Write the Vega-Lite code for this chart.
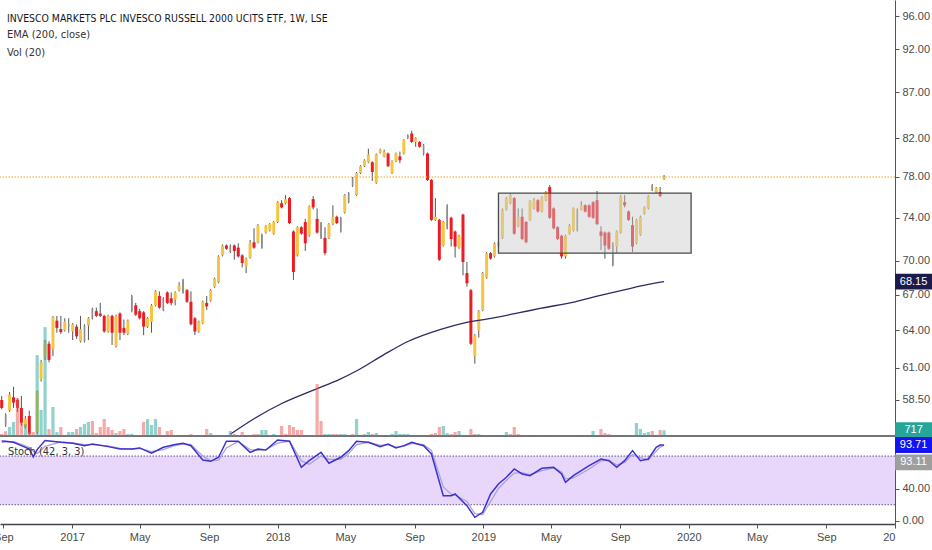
{
"$schema":"https://vega.github.io/schema/vega-lite/v6.json",
"autosize":{"type":"none"},
"padding":{"left":0,"top":0,"right":37,"bottom":26},
"background":"white",
"width":895,"height":524,
"config":{"view":{"stroke":null},"font":"Liberation Sans","axis":{"labelFont":"Liberation Sans","labelFontSize":11,"labelColor":"#4a4a4a","domainColor":"#50535e","tickColor":"#50535e","grid":false,"title":null}},
"title":{"text":"INVESCO MARKETS PLC INVESCO RUSSELL 2000 UCITS ETF, 1W, LSE","subtitle":["EMA (200, close)","Vol (20)"],"anchor":"start","orient":"top","frame":"group","offset":-58,"dx":7,"font":"Liberation Sans Narrow, DejaVu Sans Condensed, Liberation Sans","fontSize":10.4,"fontWeight":"normal","color":"#131722","subtitleFont":"Liberation Sans Narrow, DejaVu Sans Condensed, Liberation Sans","subtitleFontSize":11,"subtitleColor":"#333333","subtitlePadding":5,"subtitleLineHeight":18},
"datasets":{
"candles":[
{"d":"2016-08-29","o":58.5,"h":58.8,"l":57.8,"c":57.9,"col":"R","v":252,"vc":"dn"},
{"d":"2016-09-05","o":56.6,"h":57.5,"l":56.5,"c":57.4,"col":"G","v":592,"vc":"dn"},
{"d":"2016-09-12","o":57.7,"h":59.1,"l":57.6,"c":58.9,"col":"Y","v":1134,"vc":"up"},
{"d":"2016-09-19","o":58.7,"h":59.5,"l":57.9,"c":58.3,"col":"R","v":1764,"vc":"up"},
{"d":"2016-09-26","o":58.5,"h":58.6,"l":57.6,"c":57.9,"col":"R","v":4788,"vc":"dn"},
{"d":"2016-10-03","o":57.9,"h":58.8,"l":56.6,"c":56.8,"col":"R","v":1764,"vc":"dn"},
{"d":"2016-10-10","o":56.5,"h":57.3,"l":56.4,"c":57.1,"col":"Y","v":1512,"vc":"up"},
{"d":"2016-10-17","o":57.3,"h":57.7,"l":55.9,"c":56.0,"col":"R","v":504,"vc":"dn"},
{"d":"2016-10-24","v":504,"vc":"dn"},
{"d":"2016-10-31","o":56.1,"h":59.2,"l":56.0,"c":59.1,"col":"Y","v":10206,"vc":"up"},
{"d":"2016-11-07","o":60.1,"h":61.6,"l":59.9,"c":61.4,"col":"Y","v":3276,"vc":"up"},
{"d":"2016-11-14","o":61.8,"h":63.2,"l":61.6,"c":63.0,"col":"Y","v":13734,"vc":"up"},
{"d":"2016-11-21","o":62.9,"h":63.1,"l":61.4,"c":61.6,"col":"R","v":882,"vc":"dn"},
{"d":"2016-11-28","o":62.5,"h":65.2,"l":61.9,"c":65.1,"col":"Y","v":3654,"vc":"up"},
{"d":"2016-12-05","o":64.8,"h":65.2,"l":63.8,"c":64.2,"col":"R","v":504,"vc":"up"},
{"d":"2016-12-12","o":64.1,"h":65.2,"l":63.7,"c":63.85,"col":"R","v":1134,"vc":"dn"},
{"d":"2016-12-19","o":64.0,"h":65.0,"l":63.9,"c":64.7,"col":"Y","v":126,"vc":"up"},
{"d":"2016-12-26","o":64.3,"h":65.0,"l":63.8,"c":64.5,"col":"G","v":504,"vc":"up"},
{"d":"2017-01-02","o":63.9,"h":64.6,"l":63.2,"c":64.5,"col":"Y","v":504,"vc":"up"},
{"d":"2017-01-09","o":64.3,"h":64.5,"l":63.3,"c":63.5,"col":"R","v":882,"vc":"dn"},
{"d":"2017-01-16","o":63.1,"h":65.2,"l":63.0,"c":64.1,"col":"Y","v":1134,"vc":"up"},
{"d":"2017-01-23","o":63.1,"h":64.5,"l":63.0,"c":64.4,"col":"G","v":1512,"vc":"up"},
{"d":"2017-01-30","o":64.4,"h":65.1,"l":63.2,"c":65.0,"col":"Y","v":1764,"vc":"up"},
{"d":"2017-02-06","o":65.0,"h":65.9,"l":64.9,"c":65.8,"col":"G","v":1890,"vc":"dn"},
{"d":"2017-02-13","o":65.6,"h":65.9,"l":65.1,"c":65.2,"col":"R","v":378,"vc":"dn"},
{"d":"2017-02-20","o":65.4,"h":66.3,"l":65.1,"c":65.2,"col":"R","v":1134,"vc":"dn"},
{"d":"2017-02-27","o":65.2,"h":65.3,"l":63.8,"c":63.9,"col":"R","v":2142,"vc":"dn"},
{"d":"2017-03-06","o":63.9,"h":65.3,"l":63.8,"c":65.2,"col":"Y","v":1134,"vc":"dn"},
{"d":"2017-03-13","o":65.2,"h":65.3,"l":62.8,"c":63.8,"col":"R","v":756,"vc":"dn"},
{"d":"2017-03-20","o":62.7,"h":65.3,"l":62.6,"c":65.2,"col":"Y","v":378,"vc":"up"},
{"d":"2017-03-27","o":65.4,"h":65.5,"l":63.2,"c":63.8,"col":"R","v":630,"vc":"dn"},
{"d":"2017-04-03","o":64.2,"h":64.9,"l":63.6,"c":63.8,"col":"R","v":882,"vc":"dn"},
{"d":"2017-04-10","o":63.7,"h":64.9,"l":63.6,"c":64.8,"col":"Y","v":252,"vc":"up"},
{"d":"2017-04-17","o":65.6,"h":67.0,"l":65.5,"c":66.9,"col":"G","v":252,"vc":"up"},
{"d":"2017-04-24","o":66.1,"h":66.3,"l":65.2,"c":65.3,"col":"R","v":126,"vc":"dn"},
{"d":"2017-05-01","o":65.6,"h":65.8,"l":64.9,"c":65.0,"col":"R","v":126,"vc":"dn"},
{"d":"2017-05-08","o":65.5,"h":65.6,"l":63.6,"c":64.3,"col":"R","v":1764,"vc":"dn"},
{"d":"2017-05-15","o":64.3,"h":65.1,"l":64.2,"c":65.0,"col":"Y","v":2142,"vc":"up"},
{"d":"2017-05-22","o":64.7,"h":66.2,"l":63.8,"c":66.1,"col":"Y","v":1386,"vc":"up"},
{"d":"2017-05-29","o":66.1,"h":67.4,"l":66.0,"c":67.3,"col":"Y","v":2142,"vc":"up"},
{"d":"2017-06-05","o":66.9,"h":67.3,"l":65.8,"c":65.9,"col":"R","v":1134,"vc":"dn"},
{"d":"2017-06-12","o":65.7,"h":66.8,"l":65.6,"c":66.7,"col":"G","v":126,"vc":"up"},
{"d":"2017-06-19","o":67.2,"h":67.3,"l":66.2,"c":66.3,"col":"R","v":630,"vc":"dn"},
{"d":"2017-06-26","o":66.7,"h":67.2,"l":66.1,"c":66.3,"col":"R","v":756,"vc":"dn"},
{"d":"2017-07-03","o":66.6,"h":67.3,"l":66.1,"c":67.2,"col":"Y","v":126,"vc":"up"},
{"d":"2017-07-10","o":67.4,"h":68.1,"l":67.3,"c":67.8,"col":"Y","v":126,"vc":"up"},
{"d":"2017-07-17","o":67.2,"h":68.4,"l":67.1,"c":68.3,"col":"G","v":126,"vc":"up"},
{"d":"2017-07-24","o":67.4,"h":67.5,"l":66.3,"c":66.4,"col":"R","v":126,"vc":"dn"},
{"d":"2017-07-31","o":66.4,"h":67.3,"l":64.4,"c":64.5,"col":"R","v":252,"vc":"dn"},
{"d":"2017-08-07","o":65.0,"h":65.1,"l":63.6,"c":63.9,"col":"R","v":126,"vc":"dn"},
{"d":"2017-08-14","o":63.9,"h":64.8,"l":63.8,"c":64.7,"col":"Y","v":126,"vc":"up"},
{"d":"2017-08-21","o":64.6,"h":66.5,"l":64.5,"c":66.4,"col":"Y","v":126,"vc":"up"},
{"d":"2017-08-28","o":66.3,"h":66.9,"l":65.7,"c":66.0,"col":"R","v":882,"vc":"dn"},
{"d":"2017-09-04","o":66.5,"h":67.5,"l":66.4,"c":67.4,"col":"Y","v":378,"vc":"up"},
{"d":"2017-09-11","o":67.7,"h":68.5,"l":67.6,"c":68.4,"col":"Y","v":126,"vc":"up"},
{"d":"2017-09-18","o":68.1,"h":70.5,"l":68.0,"c":70.4,"col":"Y","v":126,"vc":"up"},
{"d":"2017-09-25","o":70.5,"h":71.5,"l":70.4,"c":71.4,"col":"Y","v":126,"vc":"up"},
{"d":"2017-10-02","o":71.4,"h":71.5,"l":71.0,"c":71.1,"col":"R","v":63,"vc":"dn"},
{"d":"2017-10-09","o":70.8,"h":71.5,"l":70.7,"c":71.4,"col":"G","v":630,"vc":"up"},
{"d":"2017-10-16","o":71.4,"h":71.5,"l":70.1,"c":70.9,"col":"R","v":252,"vc":"dn"},
{"d":"2017-10-23","o":71.2,"h":71.6,"l":70.3,"c":70.4,"col":"R","v":126,"vc":"dn"},
{"d":"2017-10-30","o":70.5,"h":70.6,"l":69.4,"c":69.8,"col":"R","v":504,"vc":"dn"},
{"d":"2017-11-06","o":69.5,"h":70.3,"l":68.9,"c":70.2,"col":"Y","v":126,"vc":"up"},
{"d":"2017-11-13","o":70.3,"h":71.9,"l":70.2,"c":71.6,"col":"Y","v":126,"vc":"up"},
{"d":"2017-11-20","o":71.7,"h":73.0,"l":71.1,"c":71.2,"col":"R","v":252,"vc":"dn"},
{"d":"2017-11-27","o":71.7,"h":73.4,"l":71.6,"c":73.3,"col":"Y","v":252,"vc":"dn"},
{"d":"2017-12-04","o":71.2,"h":72.5,"l":71.1,"c":72.4,"col":"G","v":756,"vc":"up"},
{"d":"2017-12-11","o":72.6,"h":73.3,"l":72.5,"c":73.2,"col":"Y","v":756,"vc":"up"},
{"d":"2017-12-18","o":72.8,"h":73.5,"l":72.7,"c":73.4,"col":"Y","v":126,"vc":"up"},
{"d":"2017-12-25","o":72.5,"h":73.7,"l":72.4,"c":73.6,"col":"Y","v":252,"vc":"up"},
{"d":"2018-01-01","o":73.6,"h":75.6,"l":73.5,"c":75.5,"col":"Y","v":126,"vc":"up"},
{"d":"2018-01-08","o":75.4,"h":75.7,"l":74.9,"c":75.0,"col":"R","v":1260,"vc":"dn"},
{"d":"2018-01-15","o":75.4,"h":76.2,"l":75.3,"c":75.8,"col":"Y","v":252,"vc":"dn"},
{"d":"2018-01-22","o":75.9,"h":76.0,"l":73.4,"c":73.5,"col":"R","v":1386,"vc":"dn"},
{"d":"2018-01-29","o":72.7,"h":72.8,"l":68.3,"c":69.0,"col":"R","v":1134,"vc":"dn"},
{"d":"2018-02-05","o":70.5,"h":73.2,"l":70.4,"c":73.1,"col":"Y","v":756,"vc":"dn"},
{"d":"2018-02-12","o":73.1,"h":73.2,"l":72.4,"c":72.5,"col":"R","v":756,"vc":"dn"},
{"d":"2018-02-19","o":73.6,"h":73.9,"l":70.9,"c":71.6,"col":"R","v":126,"vc":"dn"},
{"d":"2018-02-26","o":72.3,"h":75.2,"l":72.2,"c":75.1,"col":"Y","v":126,"vc":"up"},
{"d":"2018-03-05","o":75.8,"h":76.1,"l":74.8,"c":75.0,"col":"R","v":126,"vc":"dn"},
{"d":"2018-03-12","o":73.9,"h":74.9,"l":72.5,"c":72.6,"col":"R","v":6552,"vc":"dn"},
{"d":"2018-03-19","o":72.1,"h":73.6,"l":72.0,"c":73.5,"col":"G","v":1890,"vc":"dn"},
{"d":"2018-03-26","o":72.1,"h":73.1,"l":70.5,"c":70.7,"col":"R","v":252,"vc":"up"},
{"d":"2018-04-02","o":72.1,"h":73.5,"l":72.0,"c":73.4,"col":"Y","v":252,"vc":"up"},
{"d":"2018-04-09","o":73.4,"h":75.2,"l":73.3,"c":74.1,"col":"Y","v":252,"vc":"dn"},
{"d":"2018-04-16","o":74.1,"h":74.2,"l":73.4,"c":73.5,"col":"R","v":252,"vc":"dn"},
{"d":"2018-04-23","o":72.7,"h":74.1,"l":72.6,"c":74.0,"col":"G","v":252,"vc":"up"},
{"d":"2018-04-30","o":74.5,"h":76.3,"l":74.4,"c":76.2,"col":"Y","v":252,"vc":"up"},
{"d":"2018-05-07","o":75.5,"h":76.5,"l":75.4,"c":76.4,"col":"G","v":63,"vc":"up"},
{"d":"2018-05-14","o":77.1,"h":78.0,"l":77.0,"c":77.9,"col":"G","v":252,"vc":"dn"},
{"d":"2018-05-21","o":76.2,"h":78.5,"l":76.1,"c":78.4,"col":"Y","v":2142,"vc":"up"},
{"d":"2018-05-28","o":78.4,"h":79.2,"l":78.3,"c":79.1,"col":"Y","v":63,"vc":"up"},
{"d":"2018-06-04","o":79.1,"h":79.8,"l":79.0,"c":79.7,"col":"Y","v":252,"vc":"up"},
{"d":"2018-06-11","o":79.5,"h":80.9,"l":79.4,"c":80.3,"col":"Y","v":504,"vc":"up"},
{"d":"2018-06-18","o":79.5,"h":79.6,"l":77.6,"c":78.5,"col":"R","v":252,"vc":"dn"},
{"d":"2018-06-25","o":77.4,"h":80.4,"l":77.3,"c":80.3,"col":"Y","v":378,"vc":"up"},
{"d":"2018-07-02","o":80.5,"h":80.9,"l":80.4,"c":80.8,"col":"Y","v":63,"vc":"up"},
{"d":"2018-07-09","o":80.1,"h":80.8,"l":80.0,"c":80.6,"col":"Y","v":63,"vc":"up"},
{"d":"2018-07-16","o":80.4,"h":80.5,"l":79.0,"c":79.1,"col":"R","v":63,"vc":"dn"},
{"d":"2018-07-23","o":78.4,"h":79.7,"l":78.3,"c":79.6,"col":"Y","v":252,"vc":"up"},
{"d":"2018-07-30","o":79.6,"h":80.5,"l":79.5,"c":80.4,"col":"Y","v":630,"vc":"up"},
{"d":"2018-08-06","o":80.1,"h":80.6,"l":79.4,"c":79.7,"col":"R","v":252,"vc":"up"},
{"d":"2018-08-13","o":80.4,"h":81.9,"l":80.3,"c":81.8,"col":"Y","v":252,"vc":"up"},
{"d":"2018-08-20","o":82.0,"h":82.4,"l":81.9,"c":82.3,"col":"G","v":252,"vc":"up"},
{"d":"2018-08-27","o":82.5,"h":82.8,"l":81.5,"c":81.6,"col":"R","v":63,"vc":"dn"},
{"d":"2018-09-03","o":81.6,"h":82.1,"l":81.1,"c":82.0,"col":"Y","v":63,"vc":"up"},
{"d":"2018-09-10","o":81.6,"h":81.7,"l":81.0,"c":81.1,"col":"R","v":63,"vc":"dn"},
{"d":"2018-09-17","o":80.3,"h":81.4,"l":80.2,"c":81.3,"col":"G","v":63,"vc":"up"},
{"d":"2018-09-24","o":80.4,"h":80.5,"l":77.6,"c":77.7,"col":"R","v":63,"vc":"dn"},
{"d":"2018-10-01","o":77.7,"h":77.8,"l":73.7,"c":73.8,"col":"R","v":252,"vc":"dn"},
{"d":"2018-10-08","o":73.8,"h":75.9,"l":73.7,"c":74.1,"col":"Y","v":378,"vc":"dn"},
{"d":"2018-10-15","o":73.8,"h":73.9,"l":70.0,"c":70.1,"col":"R","v":1134,"vc":"dn"},
{"d":"2018-10-22","o":71.4,"h":73.7,"l":71.3,"c":73.6,"col":"Y","v":1260,"vc":"up"},
{"d":"2018-10-29","o":73.0,"h":75.3,"l":72.9,"c":75.2,"col":"G","v":378,"vc":"up"},
{"d":"2018-11-05","o":74.0,"h":74.1,"l":71.3,"c":72.0,"col":"R","v":252,"vc":"dn"},
{"d":"2018-11-12","o":72.7,"h":72.8,"l":70.3,"c":71.3,"col":"R","v":504,"vc":"dn"},
{"d":"2018-11-19","o":71.2,"h":72.4,"l":71.1,"c":72.3,"col":"Y","v":630,"vc":"up"},
{"d":"2018-11-26","o":74.3,"h":74.4,"l":68.7,"c":69.9,"col":"R","v":63,"vc":"dn"},
{"d":"2018-12-03","o":68.9,"h":69.9,"l":67.7,"c":68.0,"col":"R","v":63,"vc":"dn"},
{"d":"2018-12-10","o":67.4,"h":67.5,"l":62.8,"c":62.9,"col":"R","v":882,"vc":"dn"},
{"d":"2018-12-17","o":61.9,"h":63.7,"l":61.3,"c":63.6,"col":"Y","v":252,"vc":"dn"},
{"d":"2018-12-24","o":64.0,"h":65.7,"l":63.4,"c":65.6,"col":"Y","v":252,"vc":"up"},
{"d":"2018-12-31","o":65.7,"h":69.0,"l":65.6,"c":68.9,"col":"Y","v":63,"vc":"up"},
{"d":"2019-01-07","o":68.5,"h":70.8,"l":68.4,"c":70.7,"col":"Y","v":126,"vc":"up"},
{"d":"2019-01-14","o":70.7,"h":70.8,"l":70.1,"c":70.2,"col":"R","v":63,"vc":"dn"},
{"d":"2019-01-21","o":70.4,"h":71.7,"l":70.3,"c":71.6,"col":"Y","v":63,"vc":"up"},
{"d":"2019-01-28","o":71.3,"h":71.8,"l":71.2,"c":71.7,"col":"G","v":63,"vc":"up"},
{"d":"2019-02-04","o":72.1,"h":74.9,"l":72.0,"c":74.8,"col":"Y","v":63,"vc":"up"},
{"d":"2019-02-11","o":74.8,"h":76.0,"l":74.7,"c":75.9,"col":"Y","v":504,"vc":"up"},
{"d":"2019-02-18","o":75.4,"h":76.4,"l":75.3,"c":76.2,"col":"Y","v":252,"vc":"dn"},
{"d":"2019-02-25","o":75.9,"h":76.0,"l":72.4,"c":72.5,"col":"R","v":1134,"vc":"dn"},
{"d":"2019-03-04","o":73.2,"h":74.9,"l":73.1,"c":74.1,"col":"Y","v":252,"vc":"dn"},
{"d":"2019-03-11","o":74.1,"h":74.9,"l":71.9,"c":72.0,"col":"R","v":63,"vc":"dn"},
{"d":"2019-03-18","o":73.6,"h":73.7,"l":71.6,"c":71.7,"col":"R","v":63,"vc":"dn"},
{"d":"2019-03-25","o":73.8,"h":75.7,"l":73.7,"c":75.6,"col":"Y","v":63,"vc":"up"},
{"d":"2019-04-01","o":74.9,"h":75.9,"l":74.8,"c":75.7,"col":"Y","v":63,"vc":"up"},
{"d":"2019-04-08","o":75.7,"h":75.8,"l":74.5,"c":74.6,"col":"R","v":63,"vc":"dn"},
{"d":"2019-04-15","o":74.6,"h":76.1,"l":74.5,"c":76.0,"col":"Y","v":63,"vc":"up"},
{"d":"2019-04-22","o":75.7,"h":76.6,"l":75.6,"c":76.5,"col":"Y","v":63,"vc":"up"},
{"d":"2019-04-29","o":77.0,"h":77.2,"l":73.9,"c":74.0,"col":"R","v":63,"vc":"dn"},
{"d":"2019-05-06","o":74.9,"h":75.0,"l":72.9,"c":73.0,"col":"R","v":126,"vc":"dn"},
{"d":"2019-05-13","o":73.1,"h":73.2,"l":71.9,"c":72.0,"col":"R","v":63,"vc":"dn"},
{"d":"2019-05-20","o":72.3,"h":72.4,"l":70.2,"c":70.4,"col":"R","v":63,"vc":"dn"},
{"d":"2019-05-27","o":70.4,"h":72.4,"l":70.2,"c":72.3,"col":"Y","v":63,"vc":"up"},
{"d":"2019-06-03","o":72.5,"h":73.4,"l":72.4,"c":73.3,"col":"Y","v":63,"vc":"up"},
{"d":"2019-06-10","o":72.8,"h":75.0,"l":72.7,"c":74.9,"col":"Y","v":126,"vc":"up"},
{"d":"2019-06-17","o":72.8,"h":74.9,"l":72.7,"c":74.8,"col":"G","v":63,"vc":"up"},
{"d":"2019-06-24","o":74.8,"h":75.6,"l":74.7,"c":75.2,"col":"Y","v":63,"vc":"up"},
{"d":"2019-07-01","o":75.2,"h":75.3,"l":74.5,"c":74.6,"col":"R","v":63,"vc":"dn"},
{"d":"2019-07-08","o":75.2,"h":75.3,"l":74.0,"c":74.1,"col":"R","v":63,"vc":"dn"},
{"d":"2019-07-15","o":75.5,"h":75.6,"l":73.9,"c":74.0,"col":"R","v":630,"vc":"up"},
{"d":"2019-07-22","o":75.7,"h":76.6,"l":73.3,"c":73.4,"col":"R","v":63,"vc":"dn"},
{"d":"2019-07-29","o":72.7,"h":73.2,"l":71.0,"c":72.3,"col":"R","v":882,"vc":"dn"},
{"d":"2019-08-05","o":72.6,"h":72.7,"l":70.2,"c":71.4,"col":"R","v":378,"vc":"dn"},
{"d":"2019-08-12","o":72.6,"h":72.7,"l":71.0,"c":71.1,"col":"R","v":252,"vc":"dn"},
{"d":"2019-08-19","o":69.6,"h":71.7,"l":69.5,"c":71.6,"col":"G","v":63,"vc":"up"},
{"d":"2019-08-26","o":71.3,"h":72.8,"l":70.7,"c":72.7,"col":"Y","v":63,"vc":"up"},
{"d":"2019-09-02","o":72.6,"h":76.2,"l":72.5,"c":76.1,"col":"Y","v":63,"vc":"up"},
{"d":"2019-09-09","o":75.5,"h":76.2,"l":75.0,"c":75.2,"col":"R","v":63,"vc":"dn"},
{"d":"2019-09-16","o":74.6,"h":74.7,"l":73.7,"c":73.8,"col":"R","v":63,"vc":"dn"},
{"d":"2019-09-23","o":73.3,"h":74.1,"l":70.8,"c":71.3,"col":"R","v":126,"vc":"dn"},
{"d":"2019-09-30","o":71.6,"h":73.9,"l":71.5,"c":73.8,"col":"Y","v":1638,"vc":"up"},
{"d":"2019-10-07","o":72.4,"h":74.2,"l":72.3,"c":74.1,"col":"Y","v":882,"vc":"up"},
{"d":"2019-10-14","o":74.4,"h":75.1,"l":74.3,"c":75.0,"col":"Y","v":378,"vc":"up"},
{"d":"2019-10-21","o":74.9,"h":76.2,"l":74.8,"c":76.1,"col":"Y","v":504,"vc":"up"},
{"d":"2019-10-28","o":76.7,"h":77.3,"l":76.6,"c":77.2,"col":"G","v":630,"vc":"dn"},
{"d":"2019-11-04","o":76.5,"h":77.0,"l":76.4,"c":76.9,"col":"Y","v":63,"vc":"up"},
{"d":"2019-11-11","o":76.5,"h":77.0,"l":76.0,"c":76.1,"col":"R","v":756,"vc":"dn"},
{"d":"2019-11-18","o":77.8,"h":78.2,"l":77.7,"c":78.0,"col":"Y","v":717,"vc":"up"}
],
"ema":[
{"d":"2017-10-09","e":55.97},{"d":"2017-11-20","e":57.1},{"d":"2018-01-09","e":58.25},{"d":"2018-03-09","e":59.31},{"d":"2018-04-19","e":60.03},{"d":"2018-05-24","e":60.8},{"d":"2018-07-08","e":62.0},{"d":"2018-08-21","e":63.1},{"d":"2018-10-19","e":64.1},{"d":"2018-11-27","e":64.6},{"d":"2019-01-15","e":65.0},{"d":"2019-03-04","e":65.45},{"d":"2019-04-14","e":65.85},{"d":"2019-06-13","e":66.4},{"d":"2019-07-24","e":66.9},{"d":"2019-09-10","e":67.45},{"d":"2019-10-21","e":67.9},{"d":"2019-11-18","e":68.15}
],
"box":[{"d":"2019-01-28","d2":"2020-01-05","p1":70.7,"p2":76.4}],
"last":[{"d":"2019-11-18","close":78.0,"ema":68.15,"vol":717,"k":93.71,"dv":93.11,"paneBottom":55.84,"stochLabel":"Stoch (42, 3, 3)","labelAt":85}],
"stoch":[
{"d":"2016-08-29","k":98.5,"ds":96.5},{"d":"2016-09-05","k":98.2,"ds":97.5},{"d":"2016-09-19","k":96.9,"ds":97.8},{"d":"2016-10-03","k":92.8,"ds":94.5},{"d":"2016-10-17","k":88.7,"ds":90.5},{"d":"2016-10-24","k":79,"ds":86},{"d":"2016-10-31","k":88,"ds":83},{"d":"2016-11-14","k":99.0,"ds":92},{"d":"2016-12-12","k":96.9,"ds":97.5},{"d":"2017-01-02","k":95.7,"ds":96.2},{"d":"2017-01-23","k":92.8,"ds":94},{"d":"2017-02-06","k":94.9,"ds":94},{"d":"2017-03-06","k":91.6,"ds":92.5},{"d":"2017-03-27","k":88.7,"ds":89.5},{"d":"2017-04-17","k":88.7,"ds":88.5},{"d":"2017-05-01","k":90,"ds":89.5},{"d":"2017-05-22","k":83.4,"ds":85.5},{"d":"2017-06-12","k":90.8,"ds":88},{"d":"2017-07-03","k":94.1,"ds":93},{"d":"2017-07-17","k":95.7,"ds":95},{"d":"2017-07-31","k":92.8,"ds":94},{"d":"2017-08-21","k":75.2,"ds":80},{"d":"2017-09-04","k":73.5,"ds":74},{"d":"2017-09-18","k":78.5,"ds":75},{"d":"2017-10-02","k":98.2,"ds":90},{"d":"2017-10-23","k":98.2,"ds":98},{"d":"2017-11-13","k":84.6,"ds":88},{"d":"2017-11-27","k":88.7,"ds":87},{"d":"2017-12-11","k":87.5,"ds":88},{"d":"2018-01-01","k":99.8,"ds":96},{"d":"2018-01-22","k":98.2,"ds":98.5},{"d":"2018-02-12","k":66.1,"ds":74},{"d":"2018-02-26","k":74.3,"ds":70},{"d":"2018-03-19","k":84.6,"ds":80},{"d":"2018-04-02","k":71.1,"ds":76},{"d":"2018-04-23","k":78.5,"ds":76},{"d":"2018-05-07","k":86.7,"ds":83},{"d":"2018-05-21","k":98.2,"ds":94},{"d":"2018-06-11","k":96.9,"ds":97},{"d":"2018-07-02","k":91.6,"ds":93},{"d":"2018-07-16","k":94.9,"ds":94},{"d":"2018-07-30","k":90,"ds":91},{"d":"2018-08-13","k":92.8,"ds":92},{"d":"2018-08-27","k":96.9,"ds":95.5},{"d":"2018-09-17","k":92.8,"ds":94},{"d":"2018-10-01","k":82.6,"ds":87},{"d":"2018-10-22","k":31.2,"ds":42},{"d":"2018-11-05","k":31.2,"ds":33},{"d":"2018-11-12","k":33.3,"ds":32},{"d":"2018-12-03","k":18.9,"ds":24},{"d":"2018-12-17","k":4.5,"ds":9},{"d":"2018-12-31","k":10.7,"ds":8},{"d":"2019-01-14","k":33.3,"ds":24},{"d":"2019-01-28","k":45.6,"ds":40},{"d":"2019-02-11","k":53.8,"ds":50},{"d":"2019-02-25","k":64.1,"ds":59},{"d":"2019-03-11","k":57.9,"ds":59.5},{"d":"2019-03-25","k":55.9,"ds":57},{"d":"2019-04-15","k":64.9,"ds":62},{"d":"2019-05-06","k":66.1,"ds":65.5},{"d":"2019-05-20","k":57.9,"ds":60.5},{"d":"2019-05-27","k":47.6,"ds":52},{"d":"2019-06-10","k":55.9,"ds":53},{"d":"2019-07-08","k":68.2,"ds":64},{"d":"2019-07-29","k":76.4,"ds":74},{"d":"2019-08-12","k":74.3,"ds":75},{"d":"2019-08-26","k":66.1,"ds":69},{"d":"2019-09-09","k":74.3,"ds":72},{"d":"2019-09-23","k":86.7,"ds":82},{"d":"2019-10-07","k":74.3,"ds":78},{"d":"2019-10-21","k":76.4,"ds":75},{"d":"2019-11-04","k":90.8,"ds":86},{"d":"2019-11-11","k":93.6,"ds":91},{"d":"2019-11-18","k":93.71,"ds":93.11}
]
},
"layer":[
{"layer":[
{"data":{"name":"candles"},"mark":{"type":"rule","strokeWidth":1,"color":"#555555"},
 "encoding":{"x":{"field":"d","type":"temporal","scale":{"type":"utc","padding":0,"domain":[{"year":2016,"month":8,"date":26,"utc":true},{"year":2021,"month":1,"date":1,"utc":true}]},
  "axis":{"orient":"bottom","values":[{"year":2016,"month":9,"date":1,"utc":true},{"year":2017,"month":1,"date":1,"utc":true},{"year":2017,"month":5,"date":1,"utc":true},{"year":2017,"month":9,"date":1,"utc":true},{"year":2018,"month":1,"date":1,"utc":true},{"year":2018,"month":5,"date":1,"utc":true},{"year":2018,"month":9,"date":1,"utc":true},{"year":2019,"month":1,"date":1,"utc":true},{"year":2019,"month":5,"date":1,"utc":true},{"year":2019,"month":9,"date":1,"utc":true},{"year":2020,"month":1,"date":1,"utc":true},{"year":2020,"month":5,"date":1,"utc":true},{"year":2020,"month":9,"date":1,"utc":true},{"year":2021,"month":1,"date":1,"utc":true}],
  "labelExpr":"utcmonth(datum.value) === 0 ? (utcyear(datum.value) === 2021 ? '20' : utcFormat(datum.value, '%Y')) : utcFormat(datum.value, '%b')",
  "labelAlign":{"condition":{"test":"utcyear(datum.value) === 2021","value":"right"},"value":"center"},
  "labelFlush":false,"labelOverlap":false,"labelBound":false,"tickSize":4,"labelPadding":3,"domainColor":"#434651","domainWidth":1.5}},
 "y":{"field":"l","type":"quantitative","scale":{"type":"log","domain":[55.84,98.01],"range":[436,0],"nice":false,"zero":false},"axis":{"orient":"right","values":[58.5,61,64,67,70,74,78,82,87,92,96],"format":".2f","tickSize":4,"labelPadding":3}},
 "y2":{"field":"h"}}},
{"data":{"name":"candles"},"mark":{"type":"bar"},
 "encoding":{"x":{"field":"d","type":"temporal"},
 "y":{"field":"o","type":"quantitative"},"y2":{"field":"c"},
 "color":{"condition":[{"test":"datum.col === 'R'","value":"#ec1c24"},{"test":"datum.col === 'G'","value":"#8c8c8c"}],"value":"#f6c443"},
 "size":{"condition":{"test":"datum.col === 'G'","value":1.6},"value":3}}},
{"data":{"name":"ema"},"mark":{"type":"line","color":"#2c2a63","strokeWidth":1.3,"interpolate":"monotone"},
 "encoding":{"x":{"field":"d","type":"temporal"},"y":{"field":"e","type":"quantitative"}}},
{"data":{"name":"box"},"mark":{"type":"rect","fill":"#c9c9c9","fillOpacity":0.45,"stroke":"#4a4a4a","strokeWidth":1.3},
 "encoding":{"x":{"field":"d","type":"temporal"},"x2":{"field":"d2"},"y":{"field":"p1","type":"quantitative"},"y2":{"field":"p2"}}},
{"data":{"name":"last"},"mark":{"type":"rule","color":"#f5a623","strokeDash":[1.5,1.5],"strokeWidth":1},
 "encoding":{"y":{"field":"close","type":"quantitative"}}},
{"data":{"name":"last"},"mark":{"type":"rule","color":"#434651","strokeWidth":1.5},
 "encoding":{"y":{"field":"paneBottom","type":"quantitative"}}},
{"data":{"name":"last"},"mark":{"type":"point","shape":"M-1,-0.43L1,-0.43L1,0.43L-1,0.43Z","size":1369,"filled":true,"fill":"#1c1a4a","opacity":1,"strokeWidth":0},
 "encoding":{"x":{"datum":{"year":2021,"month":2,"date":3,"utc":true},"type":"temporal"},"y":{"field":"ema","type":"quantitative"}}},
{"data":{"name":"last"},"mark":{"type":"text","color":"white","fontSize":11,"align":"center","baseline":"middle"},
 "encoding":{"x":{"datum":{"year":2021,"month":2,"date":3,"utc":true},"type":"temporal"},"y":{"field":"ema","type":"quantitative"},"text":{"field":"ema","type":"quantitative","format":".2f"}}}
]},
{"layer":[
{"data":{"name":"candles"},"mark":{"type":"bar","opacity":0.5},
 "encoding":{"x":{"field":"d","type":"temporal"},
 "y":{"field":"v","type":"quantitative","scale":{"domain":[0,55000],"range":[436,0],"nice":false,"zero":true},"axis":null},
 "color":{"condition":{"test":"datum.vc === 'dn'","value":"#ef5350"},"value":"#26a69a"},
 "size":{"value":3.2}}},
{"data":{"name":"last"},"mark":{"type":"point","shape":"M-1,-0.43L1,-0.43L1,0.43L-1,0.43Z","size":1369,"filled":true,"fill":"#26a69a","opacity":1,"strokeWidth":0},
 "encoding":{"x":{"datum":{"year":2021,"month":2,"date":3,"utc":true},"type":"temporal"},"y":{"field":"vol","type":"quantitative","axis":null}}},
{"data":{"name":"last"},"mark":{"type":"text","color":"white","fontSize":11,"align":"center","baseline":"middle"},
 "encoding":{"x":{"datum":{"year":2021,"month":2,"date":3,"utc":true},"type":"temporal"},"y":{"field":"vol","type":"quantitative","axis":null},"text":{"field":"vol","type":"quantitative","format":"d"}}}
]},
{"layer":[
{"data":{"name":"last"},"mark":{"type":"rect","color":"#e8d6fb"},
 "encoding":{"x":{"datum":{"year":2016,"month":8,"date":26,"utc":true},"type":"temporal"},
 "x2":{"datum":{"year":2021,"month":1,"date":1,"utc":true}},
 "y":{"datum":20,"type":"quantitative","scale":{"domain":[-3.7,104.7],"range":[524,436],"nice":false,"zero":false},"axis":{"orient":"right","values":[0,40],"format":".2f","tickSize":4,"labelPadding":3}},
 "y2":{"datum":80}}},
{"data":{"name":"last"},"mark":{"type":"rule","color":"#5b5a86","strokeDash":[1.5,1.5],"strokeWidth":1},
 "encoding":{"y":{"datum":20,"type":"quantitative"}}},
{"data":{"name":"last"},"mark":{"type":"rule","color":"#5b5a86","strokeDash":[1.5,1.5],"strokeWidth":1},
 "encoding":{"y":{"datum":80,"type":"quantitative"}}},
{"data":{"name":"stoch"},"mark":{"type":"line","color":"#a9a3d2","strokeWidth":1.3},
 "encoding":{"x":{"field":"d","type":"temporal"},"y":{"field":"ds","type":"quantitative"}}},
{"data":{"name":"stoch"},"mark":{"type":"line","color":"#3f31d0","strokeWidth":1.5},
 "encoding":{"x":{"field":"d","type":"temporal"},"y":{"field":"k","type":"quantitative"}}},
{"data":{"name":"last"},"mark":{"type":"text","color":"#333333","fontSize":11,"font":"Liberation Sans Narrow, DejaVu Sans Condensed, Liberation Sans","align":"left","baseline":"middle"},
 "encoding":{"x":{"datum":{"year":2016,"month":9,"date":9,"utc":true},"type":"temporal"},"y":{"field":"labelAt","type":"quantitative"},"text":{"field":"stochLabel"}}},
{"data":{"name":"last"},"mark":{"type":"point","shape":"M-1,-0.43L1,-0.43L1,0.43L-1,0.43Z","size":1369,"filled":true,"fill":"#9e9e9e","opacity":1,"strokeWidth":0,"yOffset":17},
 "encoding":{"x":{"datum":{"year":2021,"month":2,"date":3,"utc":true},"type":"temporal"},"y":{"field":"dv","type":"quantitative"}}},
{"data":{"name":"last"},"mark":{"type":"text","color":"white","fontSize":11,"align":"center","baseline":"middle","yOffset":17},
 "encoding":{"x":{"datum":{"year":2021,"month":2,"date":3,"utc":true},"type":"temporal"},"y":{"field":"dv","type":"quantitative"},"text":{"field":"dv","type":"quantitative","format":".2f"}}},
{"data":{"name":"last"},"mark":{"type":"point","shape":"M-1,-0.43L1,-0.43L1,0.43L-1,0.43Z","size":1369,"filled":true,"fill":"#1414f0","opacity":1,"strokeWidth":0},
 "encoding":{"x":{"datum":{"year":2021,"month":2,"date":3,"utc":true},"type":"temporal"},"y":{"field":"k","type":"quantitative"}}},
{"data":{"name":"last"},"mark":{"type":"text","color":"white","fontSize":11,"align":"center","baseline":"middle"},
 "encoding":{"x":{"datum":{"year":2021,"month":2,"date":3,"utc":true},"type":"temporal"},"y":{"field":"k","type":"quantitative"},"text":{"field":"k","type":"quantitative","format":".2f"}}}
]}
],
"resolve":{"scale":{"y":"independent"}}
}
